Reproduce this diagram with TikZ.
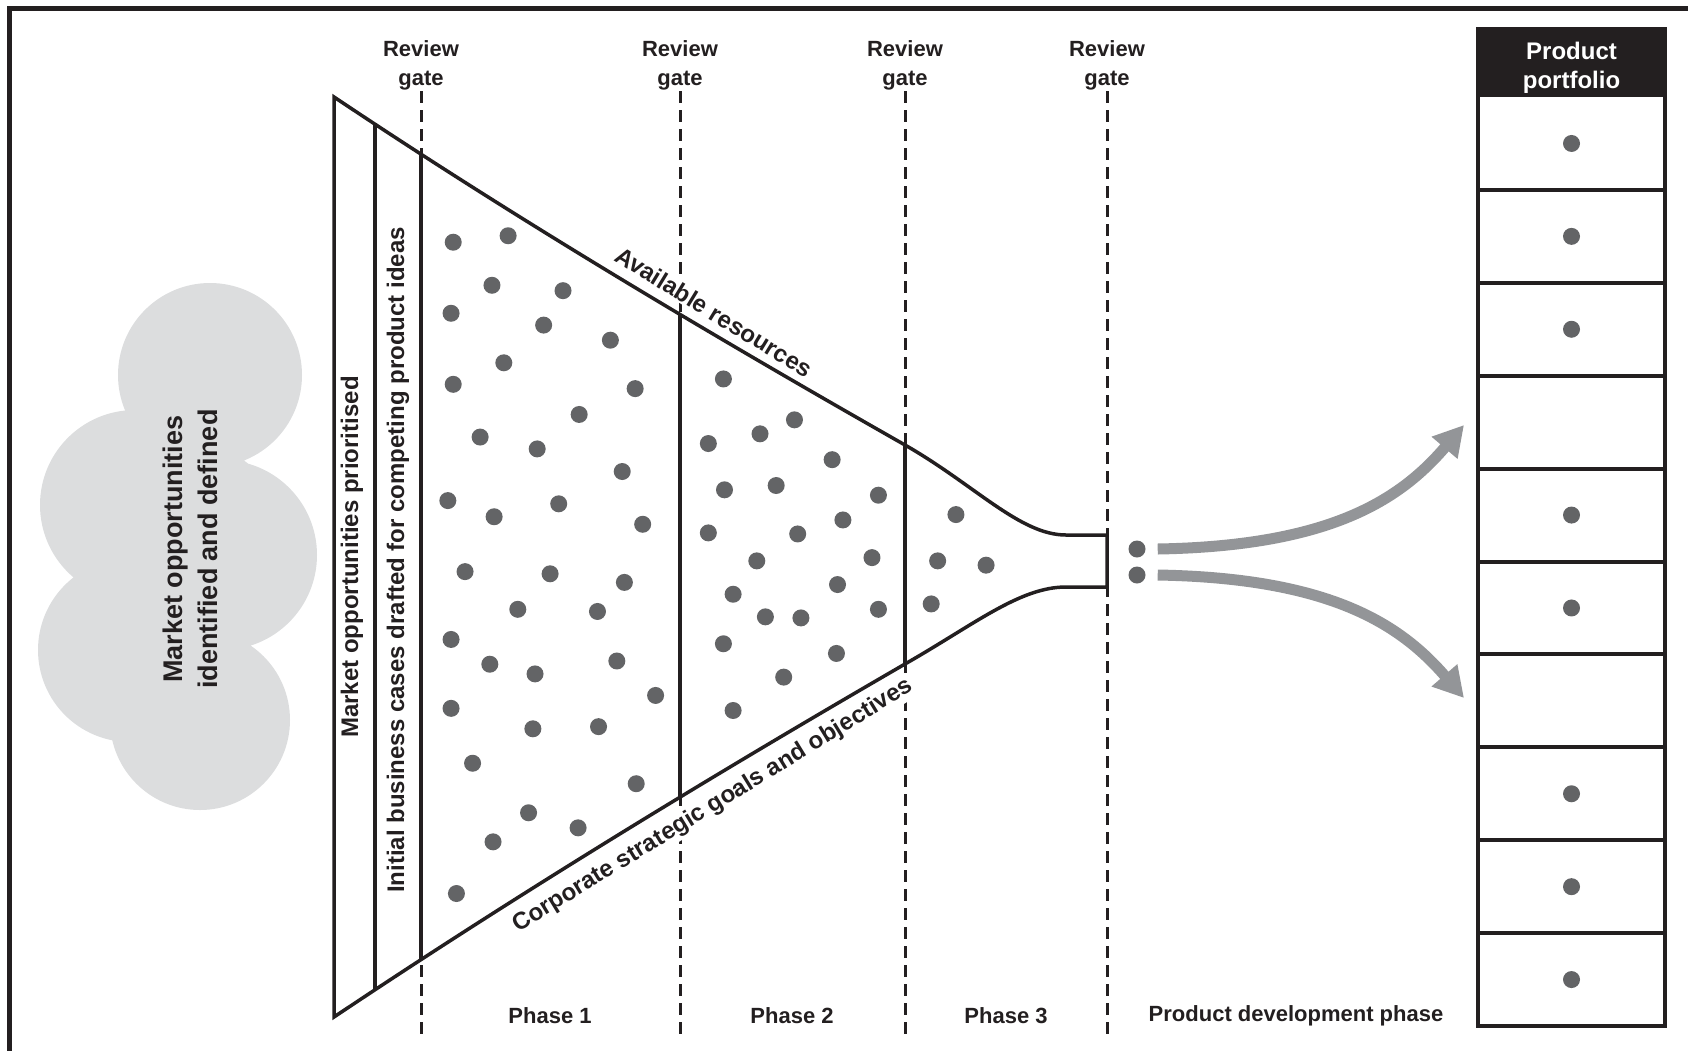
\documentclass[tikz,border=0pt]{standalone}
\usepackage{fontspec}
\setmainfont{Liberation Sans}
\usetikzlibrary{arrows.meta}
\definecolor{ink}{HTML}{231F20}
\definecolor{dotc}{HTML}{636466}
\definecolor{cloudc}{HTML}{DCDDDE}
\definecolor{arrowc}{HTML}{939598}
\begin{document}
\begin{tikzpicture}[x=1pt,y=-1pt,
  lbl/.style={font=\bfseries\fontsize{24}{28}\selectfont, text=ink, inner sep=0pt},
  edgelbl/.style={lbl, fill=white, inner sep=1.5pt},
  gatelbl/.style={font=\bfseries\fontsize{22}{29}\selectfont, text=ink, align=center, inner sep=0pt},
  phaselbl/.style={font=\bfseries\fontsize{22}{26}\selectfont, text=ink, inner sep=0pt},
  cloudlbl/.style={font=\bfseries\fontsize{27}{35}\selectfont, text=ink, align=center, inner sep=0pt},
  headlbl/.style={font=\bfseries\fontsize{24}{29}\selectfont, text=white, align=center, inner sep=0pt},
  dotnode/.style={circle, fill=dotc, minimum size=17pt, inner sep=0pt},
  funnelline/.style={draw=ink, line width=3.5pt, line join=miter},
  gateline/.style={draw=ink, line width=3pt, dash pattern=on 12pt off 7pt},
  boxline/.style={draw=ink, line width=4pt},
  bigarrow/.style={draw=arrowc, line width=11pt, -{Triangle[length=30pt,width=32pt]}}
]
\useasboundingbox (0,0) rectangle (1688,1050);
\clip (0,0) rectangle (1688,1050);
% outer frame (partly cut)
\draw[ink, line width=5pt] (9.5,1080) -- (9.5,8.5) -- (1720,8.5);

% cloud
\fill[cloudc] (210,375) circle (92pt) (135,505) circle (95pt) (222,555) circle (95pt)
  (130,650) circle (92pt) (200,720) circle (90pt) (180,550) circle (110pt);
\node[cloudlbl, rotate=90] (cloudtext) at (190,549) {Market opportunities\\identified and defined};

% gate dashed lines
\foreach \gx/\gn in {421/ga,680/gb,905/gc,1107/gd}
  \draw[gateline] (\gx,91) coordinate (\gn top) -- (\gx,1034) coordinate (\gn bot);

% funnel interior
\fill[white] (334,97) .. controls (524,224) and (715,337) .. (905,445)
  .. controls (975,485) and (1020,535) .. (1066,535) -- (1107,535) -- (1107,587) -- (1066,587)
  .. controls (1020,587) and (975,624) .. (905,664)
  .. controls (715,774) and (524,890) .. (334,1017) -- cycle;

% edge texts (mask the dashed lines)
\node[edgelbl, rotate=-31.5] (avail) at (714,312) {Available resources};
\node[edgelbl, rotate=31.5] (corp) at (713,806) {Corporate strategic goals and objectives};

\begin{scope}
\clip (334,97) .. controls (524,224) and (715,337) .. (905,445)
  .. controls (975,485) and (1020,535) .. (1066,535) -- (1107,535) -- (1107,587) -- (1066,587)
  .. controls (1020,587) and (975,624) .. (905,664)
  .. controls (715,774) and (524,890) .. (334,1017) -- cycle;
\foreach \vx in {375,421,680,905}
  \draw[ink, line width=3.5pt] (\vx,0) -- (\vx,1050);
\end{scope}
\path[funnelline] (334,97) .. controls (524,224) and (715,337) .. (905,445)
  .. controls (975,485) and (1020,535) .. (1066,535) -- (1107,535) -- (1107,587) -- (1066,587)
  .. controls (1020,587) and (975,624) .. (905,664)
  .. controls (715,774) and (524,890) .. (334,1017) -- cycle;

% dots inside funnel (display coordinates scaled)
\foreach \x/\y [count=\i] in {421/225,472/219,419/291,457/265,523/270,505/302,567/316,421/357,468/337,590/361,538/385,446/406,499/417,578/438,416/465,459/480,519/468,597/487,432/531,511/533,580/541,481/566,555/568,419/594,455/617,497/626,573/614,609/646,419/658,495/677,556/675,439/709,591/728,491/755,537/769,458/782,424/830,672/352,658/412,706/403,738/390,673/455,721/451,773/427,816/460,658/495,741/496,783/483,703/521,810/518,681/552,778/543,711/573,744/574,816/566,672/598,777/607,728/629,681/660,888/478,871/521,916/525,865/561}
  \node[dotnode] (d\i) at ({\x*1.0765},{\y*1.0765}) {};

% strip texts
\node[lbl, rotate=90] (strip1) at (352,557) {Market opportunities prioritised};
\node[lbl, rotate=90] (strip2) at (398,560) {Initial business cases drafted for competing product ideas};

% gate labels
\node[gatelbl] (rg1) at (421,65) {Review\\gate};
\node[gatelbl] (rg2) at (680,65) {Review\\gate};
\node[gatelbl] (rg3) at (905,65) {Review\\gate};
\node[gatelbl] (rg4) at (1107,65) {Review\\gate};

% phase labels
\node[phaselbl] (p1) at (550,1016) {Phase 1};
\node[phaselbl] (p2) at (792,1016) {Phase 2};
\node[phaselbl] (p3) at (1006,1016) {Phase 3};
\node[phaselbl] (p4) at (1296,1016) {Product development phase};

% portfolio
\fill[ink] (1478,29) rectangle (1665,97);
\node[headlbl] (head) at (1571.5,68) {Product\\portfolio};
\foreach \k in {1,...,9}
  \draw[boxline] (1478,{97+92.9*\k}) -- (1665,{97+92.9*\k});
\draw[ink, line width=4.5pt] (1478,29) rectangle (1665,1026);
\foreach \k [count=\j] in {1,2,3,5,6,8,9,10}
  \node[dotnode] (pd\j) at (1571.5,{97+92.9*(\k-0.5)}) {};

% tip dots and arrows
\node[dotnode] (tipA) at (1137,549) {};
\node[dotnode] (tipB) at (1137,575) {};
\coordinate (upEnd) at (1464,425);
\coordinate (dnEnd) at (1464,698);
\draw[bigarrow] ([xshift=12pt]tipA.east) .. controls (1330,546) and (1400,500) .. (upEnd);
\draw[bigarrow] ([xshift=12pt]tipB.east) .. controls (1330,578) and (1400,624) .. (dnEnd);
\end{tikzpicture}
\end{document}
